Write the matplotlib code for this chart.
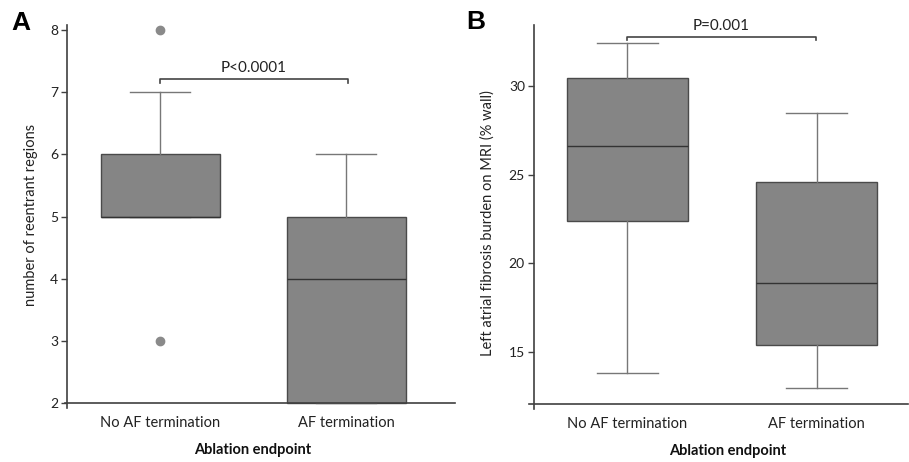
import matplotlib
matplotlib.use("Agg")
import matplotlib.pyplot as plt

plt.rcParams['font.family'] = ['Lato', 'DejaVu Sans']

# groups on the x axis
groups = ["No AF termination", "AF termination"]

# panel A: number of reentrant regions
a_q1 = [5, 2]
a_med = [5, 4]
a_q3 = [6, 5]
a_lo = [5, 2]
a_hi = [7, 6]
a_out = [[8, 3], []]
a_ticks = [2, 3, 4, 5, 6, 7, 8]

# panel B: LA fibrosis burden (% wall)
b_q1 = [22.4, 15.4]
b_med = [26.6, 18.9]
b_q3 = [30.45, 24.6]
b_lo = [13.8, 13.0]
b_hi = [32.4, 28.5]
b_out = [[], []]
b_ticks = [15, 20, 25, 30]

W, H = 909, 462
fig = plt.figure(figsize=(W / 100, H / 100), dpi=100)


def px_axes(l, t, r, b):
    return fig.add_axes([l / W, 1 - b / H, (r - l) / W, (b - t) / H])


def draw_boxes(ax, q1, med, q3, lo, hi, out):
    stats = []
    for i in range(len(groups)):
        stats.append(dict(med=med[i], q1=q1[i], q3=q3[i],
                          whislo=lo[i], whishi=hi[i], fliers=out[i]))
    ax.bxp(stats, positions=[1, 2], widths=0.64, patch_artist=True,
           boxprops=dict(facecolor='#858585', edgecolor='#4a4a4a', linewidth=1.0),
           medianprops=dict(color='#333333', linewidth=1.0),
           whiskerprops=dict(color='#777777', linewidth=1.0),
           capprops=dict(color='#777777', linewidth=1.0),
           flierprops=dict(marker='o', markerfacecolor='#8a8a8a',
                           markeredgecolor='#8a8a8a', markersize=6))


def style_axes(ax, xl, yb):
    for s in ['top', 'right']:
        ax.spines[s].set_visible(False)
    ax.spines['left'].set_position(('data', xl))
    ax.spines['bottom'].set_position(('data', yb))
    for s in ['left', 'bottom']:
        ax.spines[s].set_color('#404040')
        ax.spines[s].set_linewidth(1.2)
    ax.tick_params(axis='y', direction='out', length=4.5, width=1,
                   color='#404040', labelsize=10, pad=2, labelcolor='#222222')
    ax.tick_params(axis='x', length=0, labelsize=10.5, pad=9, labelcolor='#222222')
    ax.set_xticks([1, 2])
    ax.set_xticklabels(groups)


def bracket(ax, x1, x2, y, h, label, ty):
    ax.plot([x1, x1, x2, x2], [y - h, y, y, y - h], color='#444444',
            lw=1.2, clip_on=False)
    ax.text((x1 + x2) / 2, ty, label, ha='center', va='center',
            fontsize=11, color='#222222')


# ---- panel A
axA = px_axes(65, 25, 455, 408)
draw_boxes(axA, a_q1, a_med, a_q3, a_lo, a_hi, a_out)
axA.set_xlim(0.489, 2.586)
axA.set_ylim(1.92, 8.08)
axA.set_yticks(a_ticks)
style_axes(axA, 0.5, 2)
axA.set_ylabel("number of reentrant regions", fontsize=10.5, color='#222222')
axA.yaxis.set_label_coords(-0.07, 0.505)
axA.set_xlabel("Ablation endpoint", fontsize=10.5, fontweight='bold', color='#111111')
axA.xaxis.set_label_coords(0.482, -0.092)
bracket(axA, 1, 2.01, 7.21, 0.07, "P<0.0001", 7.39)

# ---- panel B
axB = px_axes(529, 25, 908, 409)
draw_boxes(axB, b_q1, b_med, b_q3, b_lo, b_hi, b_out)
axB.set_xlim(0.479, 2.484)
axB.set_ylim(11.79, 33.44)
axB.set_yticks(b_ticks)
style_axes(axB, 0.505, 12.07)
axB.set_ylabel("Left atrial fibrosis burden on MRI (% wall)", fontsize=10.5,
               color='#222222')
axB.yaxis.set_label_coords(-0.09, 0.483)
axB.set_xlabel("Ablation endpoint", fontsize=10.5, fontweight='bold', color='#111111')
axB.xaxis.set_label_coords(0.525, -0.092)
bracket(axB, 1, 1.995, 32.78, 0.2, "P=0.001", 33.4)

# panel letters
fig.text(11 / W, 1 - 30 / H, "A", fontsize=19, fontweight='bold',
         family='Liberation Sans', va='baseline')
fig.text(466 / W, 1 - 29 / H, "B", fontsize=19, fontweight='bold',
         family='Liberation Sans', va='baseline')

fig.savefig("out.png", dpi=100)
